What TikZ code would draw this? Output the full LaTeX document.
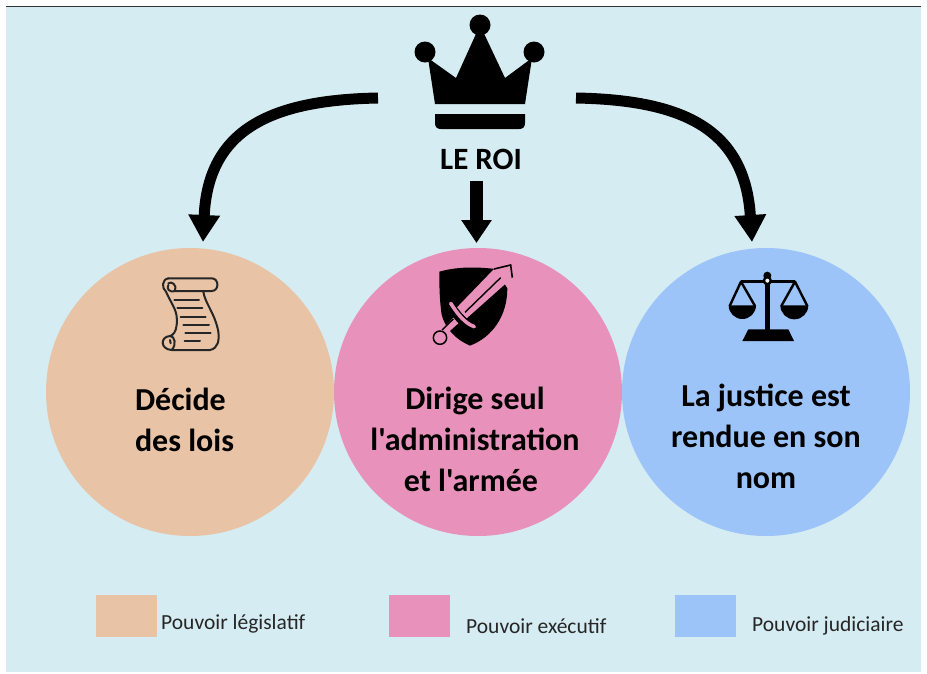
\documentclass[tikz,border=0pt]{standalone}
\usepackage{fontspec}
\setmainfont{Carlito}[Ligatures=TeXOff]
\usetikzlibrary{arrows.meta}
\definecolor{bgc}{HTML}{D5ECF3}
\definecolor{peach}{HTML}{E8C3A5}
\definecolor{rose}{HTML}{E891BB}
\definecolor{sky}{HTML}{9CC4F8}
\tikzset{
 x=1pt,y=-1pt,
 disc/.style={circle,minimum size=288pt,inner sep=0pt,fill=#1},
 disctext/.style={font=\fontsize{32}{41}\selectfont\bfseries,align=center,text=black},
 swatch/.style={rectangle,minimum width=61pt,minimum height=42pt,inner sep=0pt,fill=#1},
 legend/.style={font=\fontsize{21.5}{24}\selectfont,text=black!85,anchor=west,inner sep=0pt},
 bigarrow/.style={line width=11pt,draw=black,-{Triangle[width=30pt,length=27pt]}},
 iconline/.style={draw=black!85,line width=2pt,line cap=round,line join=round},
}
\begin{document}
\begin{tikzpicture}
\useasboundingbox (0,0) rectangle (927,673);
\fill[white] (0,0) rectangle (927,673);
\fill[bgc] (6,7) rectangle (921,672);
\draw[black!80,line width=1pt] (6,6.5) -- (921,6.5);
% circles
\node[disc=peach] (legis) at (190,392) {};
\node[disc=rose] (exec) at (478,392) {};
\node[disc=sky] (just) at (766,392) {};
\node[disctext,align=left] (t1) at (184.5,419.5) {Décide\\des lois};
\node[disctext] (t2) at (475,439) {Dirige seul\\l'administration\\et l'armée\hspace*{8pt}};
\node[disctext] (t3) at (766,436.5) {La justice est\\rendue en son\\nom};
% crown
\fill[black] (480,25) -- (505,78) -- (532,58) -- (525,104) -- (435,104) -- (428,58) -- (456,78) -- cycle;
\fill[black] (480,25) circle (10.5) (425,52) circle (10.5) (534,52) circle (10.5);
\fill[black] (435,114) -- (525,114) -- (525,123) .. controls (525,127) and (523,129) .. (519,129) -- (441,129) .. controls (437,129) and (435,127) .. (435,123) -- cycle;
\node[font=\fontsize{31}{33}\selectfont\bfseries,inner sep=0pt] (roi) at (481,159) {LE ROI};
% connectors
\coordinate (la) at (378,98);
\coordinate (ra) at (576,98);
\coordinate (ltip) at (203,242);
\coordinate (rtip) at (752,242);
\coordinate (mtop) at (476.5,181);
\coordinate (mtip) at (476.5,243);
\draw[bigarrow] (la) .. controls (270,100) and (208,130) .. (ltip);
\draw[bigarrow] (ra) .. controls (685,100) and (745,130) .. (rtip);
\draw[line width=12.5pt,-{Triangle[width=29pt,length=23pt]}] (mtop) -- (mtip);
% scroll icon
\begin{scope}[shift={(140,260)},xscale=1/3,yscale=1/3]
\draw[iconline] (85,55) -- (215,55) .. controls (238,55) and (238,93) .. (215,93) -- (105,93);
\draw[iconline] (85,55) .. controls (65,58) and (65,85) .. (78,95) .. controls (95,135) and (115,150) .. (110,195) .. controls (108,215) and (100,225) .. (90,228) .. controls (60,230) and (60,268) .. (95,270) -- (210,270) .. controls (235,265) and (238,240) .. (235,215) .. controls (225,160) and (195,130) .. (190,95);
\draw[iconline] (85,70) .. controls (95,62) and (112,75) .. (105,93) .. controls (85,98) and (80,85) .. (85,75);
\draw[iconline] (90,228) .. controls (105,228) and (110,255) .. (95,270) (90,240) -- (92,250);
\foreach \a/\b/\c in {103/177/120,112/187/145,122/197/170,130/207/195,136/212/220,134/180/244}
  \draw[iconline] (\a,\c) -- (\b,\c);
\end{scope}
% sword icon
\begin{scope}[shift={(420,255)},xscale=1/3,yscale=1/3]
\fill[black] (58,50) .. controls (110,35) and (170,35) .. (225,42) -- (262,100) .. controls (262,180) and (220,245) .. (150,272) .. controls (100,250) and (75,215) .. (65,180) .. controls (58,130) and (58,90) .. (58,50) -- cycle;
\fill[rose] (222,42) -- (272,30) -- (277,68) -- (140,190) -- (110,158) -- cycle;
\draw[black,line width=1.6pt,line join=miter] (222,42) -- (272,30) -- (277,68);
\draw[black,line width=1.4pt] (242,68) -- (135,172);
\draw[black,line width=6pt,line cap=round] (92,145) .. controls (115,180) and (135,205) .. (163,215);
\draw[rose,line width=3.6pt,line cap=round] (92,145) .. controls (115,180) and (135,205) .. (163,215);
\fill[rose] (100,188) -- (115,205) -- (78,238) -- (66,225) -- cycle;
\draw[black,line width=1.4pt] (66,225) -- (100,192);
\draw[black,fill=rose,line width=1.5pt] (60,248) circle (20);
\end{scope}
% scales icon
\begin{scope}[shift={(715,260)},xscale=1/3,yscale=1/3]
\fill[black] (150,60) rectangle (165,215);
\fill[black] (100,208) -- (220,208) -- (237,243) -- (82,243) -- cycle;
\draw[black,line width=2.8pt] (78,65) -- (240,65);
\fill[black] (157,47) circle (12) (157,62) circle (14);
\fill[white!85!sky] (157,62) circle (6);
\draw[black,line width=2.4pt,line join=round] (44,138) -- (78,65) -- (120,138);
\draw[black,line width=2.4pt,line join=round] (199,138) -- (240,65) -- (277,138);
\fill[black] (41,136) arc[start angle=180,end angle=0,radius=41] -- cycle;
\fill[black] (196,136) arc[start angle=180,end angle=0,radius=42] -- cycle;
\end{scope}
% legend
\node[swatch=peach] (s1) at (126.5,616) {};
\node[swatch=rose] (s2) at (419.5,616) {};
\node[swatch=sky] (s3) at (705.5,616) {};
\node[legend] (l1) at (161,624) {Pouvoir législatif};
\node[legend] (l2) at (466,626) {Pouvoir exécutif};
\node[legend] (l3) at (752,626) {Pouvoir judiciaire};
\end{tikzpicture}
\end{document}
